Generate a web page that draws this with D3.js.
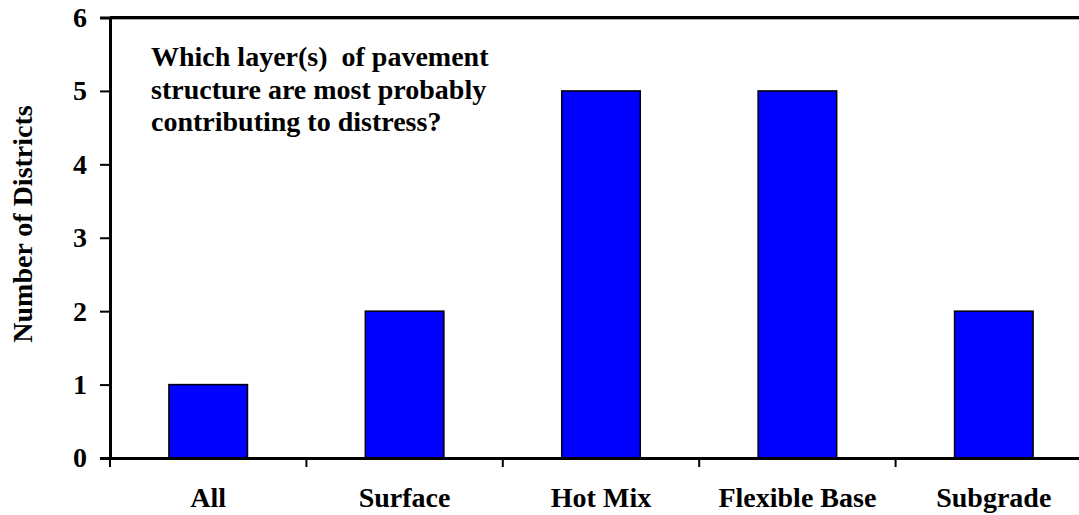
<!DOCTYPE html>
<html><head><meta charset="utf-8">
<script src="https://cdn.jsdelivr.net/npm/d3@7"></script>
<style>body{margin:0;background:#fff}svg{display:block}</style>
</head><body>
<script>
const categories = ["All", "Surface", "Hot Mix", "Flexible Base", "Subgrade"];
const values = [1, 2, 5, 5, 2];
const yTicks = [0, 1, 2, 3, 4, 5, 6];
const yTitle = "Number of Districts";
const noteLines = ["Which layer(s)  of pavement", "structure are most probably", "contributing to distress?"];

const W = 1079, H = 515;
const m = {left: 110, top: 17.5, right: -13, bottom: 57};
const svg = d3.select("body").append("svg").attr("width", W).attr("height", H);
const font = "'Liberation Serif','Times New Roman',serif";
const fs = 28;

const x = d3.scaleBand().domain(categories).range([m.left, W - m.right]).paddingInner(0.6).paddingOuter(0.3);
const xTicks = d3.scaleBand().domain(categories).range([m.left, W - m.right]);
const y = d3.scaleLinear().domain([0, 6]).range([H - m.bottom, m.top]);

// bars
svg.selectAll("rect.bar").data(values).enter().append("rect")
  .attr("x", (d, i) => x(categories[i]))
  .attr("y", d => y(d))
  .attr("width", x.bandwidth())
  .attr("height", d => y(0) - y(d))
  .attr("fill", "#0000ff").attr("stroke", "#000").attr("stroke-width", 1.5);

// top frame line
svg.append("line").attr("x1", m.left).attr("x2", W).attr("y1", y(6) + 1.5).attr("y2", y(6) + 1.5)
  .attr("stroke", "#888").attr("stroke-width", 1.5);
svg.append("line").attr("x1", m.left).attr("x2", W).attr("y1", y(6)).attr("y2", y(6))
  .attr("stroke", "#000").attr("stroke-width", 3);

// y axis
const yAxis = svg.append("g").attr("transform", `translate(${m.left},0)`)
  .call(d3.axisLeft(y).tickValues(yTicks).tickSize(10).tickPadding(13).tickFormat(d3.format("d")));
yAxis.select(".domain").attr("stroke-width", 3);
yAxis.selectAll(".tick line").attr("stroke-width", 2);
yAxis.selectAll("text").attr("font-family", font).attr("font-weight", "bold").attr("font-size", fs).attr("fill", "#000");

// x axis
const xAxis = svg.append("g").attr("transform", `translate(0,${y(0)})`)
  .call(d3.axisBottom(xTicks).tickSize(0).tickPadding(29));
xAxis.select(".domain").attr("stroke-width", 3);
xAxis.selectAll(".tick text").attr("font-family", font).attr("font-weight", "bold").attr("font-size", fs).attr("fill", "#000");
// category boundary ticks
svg.selectAll("line.xt").data(categories).enter().append("line")
  .attr("x1", d => xTicks(d)).attr("x2", d => xTicks(d))
  .attr("y1", y(0)).attr("y2", y(0) + 9)
  .attr("stroke", "#000").attr("stroke-width", 2);

// y title
svg.append("text").attr("transform", `translate(32,224) rotate(-90)`)
  .attr("text-anchor", "middle").attr("font-family", font).attr("font-weight", "bold")
  .attr("font-size", fs).text(yTitle);

// note
svg.append("g").selectAll("text").data(noteLines).enter().append("text")
  .attr("x", 151).attr("y", (d, i) => 66 + i * 32.5)
  .attr("font-family", font).attr("font-weight", "bold").attr("font-size", fs)
  .attr("xml:space", "preserve").style("white-space", "pre").text(d => d);
</script>
</body></html>
